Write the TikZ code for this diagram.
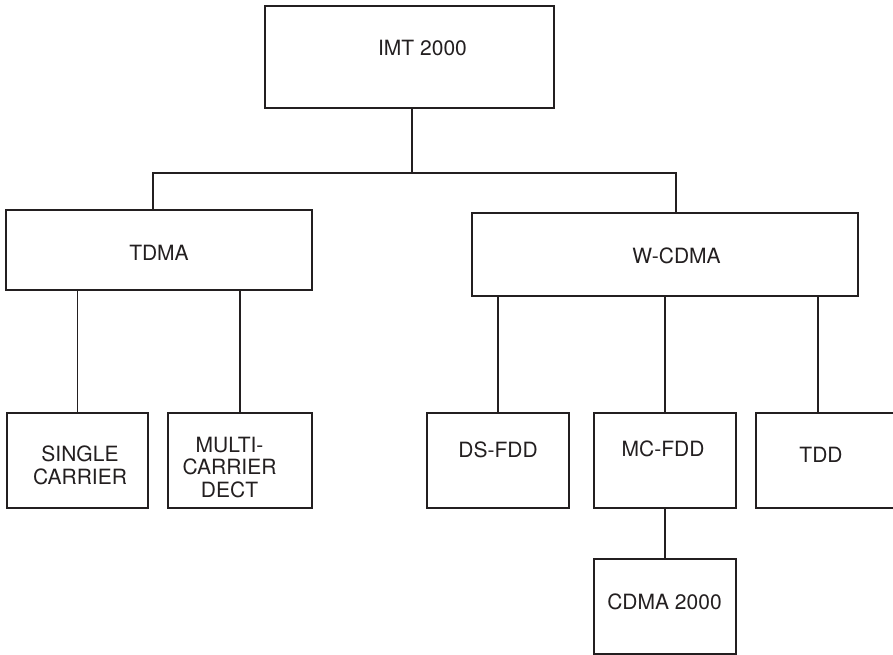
\documentclass[tikz,border=0pt]{standalone}
\usepackage{fontspec}
\setmainfont{TeX Gyre Heros}
\definecolor{ink}{HTML}{231F20}
\begin{document}
\begin{tikzpicture}[x=1pt,y=-1pt,
  box/.style={draw=ink,line width=2.2pt,inner sep=0pt,fill=white},
  lbl/.style={text=ink,inner sep=0pt,align=center,font=\fontsize{21}{22.5}\selectfont},
  conn/.style={draw=ink,line width=1.3pt}]
\useasboundingbox (0,0) rectangle (893,655);
% boxes
\node[box,minimum width=289pt,minimum height=102pt] (imt) at (409.5,57) {};
\node[lbl] (imtT) at (422.5,48.5) {IMT 2000};
\node[box,minimum width=306pt,minimum height=80pt] (tdma) at (159,250) {};
\node[lbl] (tdmaT) at (159,253) {TDMA};
\node[box,minimum width=386pt,minimum height=83pt] (wcdma) at (665,254.5) {};
\node[lbl] (wcdmaT) at (676.5,256) {W-CDMA};
\node[box,minimum width=141pt,minimum height=95pt] (single) at (77.5,460.5) {};
\node[lbl] (singleT) at (80,465.5) {SINGLE\\CARRIER};
\node[box,minimum width=144pt,minimum height=95pt] (multi) at (240,460.5) {};
\node[lbl] (multiT) at (229.5,467.5) {MULTI-\\CARRIER\\DECT};
\node[box,minimum width=142pt,minimum height=95pt] (dsfdd) at (498,460.5) {};
\node[lbl] (dsfddT) at (498,450) {DS-FDD};
\node[box,minimum width=142pt,minimum height=95pt] (mcfdd) at (665,460.5) {};
\node[lbl] (mcfddT) at (663,449) {MC-FDD};
\node[box,minimum width=144pt,minimum height=95pt] (tdd) at (828,460.5) {};
\node[lbl] (tddT) at (821,455) {TDD};
\node[box,minimum width=142pt,minimum height=95pt] (cdma) at (665,606.5) {};
\node[lbl] (cdmaT) at (664.5,602) {CDMA 2000};
% connectors
\coordinate (busL) at (153,173);
\coordinate (busR) at (676,173);
\coordinate (imtJ) at ([xshift=2.5pt]imt.south);
\coordinate (tddJ) at ([xshift=-10pt]tdd.north);
\draw[conn] (imtJ) -- (imtJ |- busL);
\draw[conn] (tdma.north -| busL) -- (busL) -- (busR) -- (wcdma.north -| busR);
\draw[conn] (single.north) -- (single.north |- tdma.south);
\draw[conn] (multi.north) -- (multi.north |- tdma.south);
\draw[conn] (dsfdd.north) -- (dsfdd.north |- wcdma.south);
\draw[conn] (mcfdd.north) -- (mcfdd.north |- wcdma.south);
\draw[conn] (tddJ) -- (tddJ |- wcdma.south);
\draw[conn] (cdma.north) -- (mcfdd.south);
\end{tikzpicture}
\end{document}
